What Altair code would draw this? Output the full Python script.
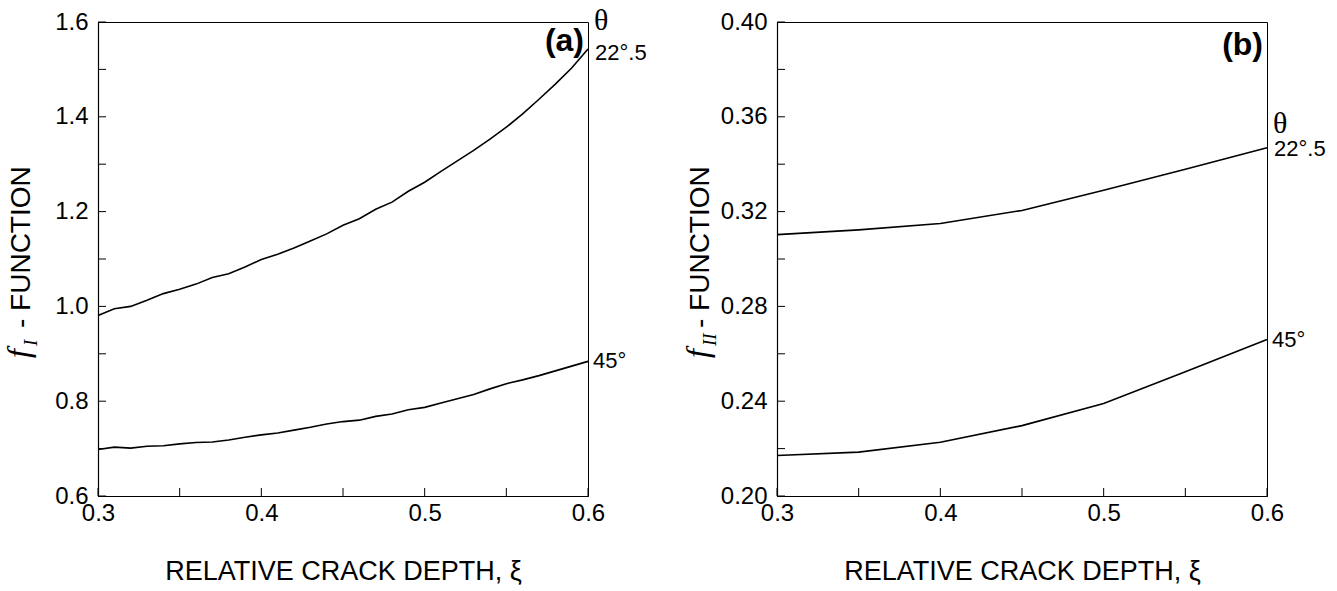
import altair as alt
import pandas as pd

# ---------------- data ----------------
xi_a = [0.30, 0.31, 0.32, 0.33, 0.34, 0.35, 0.36, 0.37, 0.38, 0.39, 0.40,
        0.41, 0.42, 0.43, 0.44, 0.45, 0.46, 0.47, 0.48, 0.49, 0.50,
        0.51, 0.52, 0.53, 0.54, 0.55, 0.56, 0.57, 0.58, 0.59, 0.60]
fI_225 = [0.981, 0.995, 1.000, 1.013, 1.027, 1.036, 1.047, 1.061, 1.069, 1.083, 1.099,
          1.110, 1.123, 1.138, 1.153, 1.171, 1.185, 1.205, 1.220, 1.243, 1.262,
          1.285, 1.307, 1.329, 1.353, 1.378, 1.406, 1.437, 1.469, 1.503, 1.543]
fI_45 = [0.698, 0.703, 0.701, 0.705, 0.706, 0.710, 0.713, 0.714, 0.718, 0.724, 0.729,
         0.733, 0.739, 0.745, 0.752, 0.757, 0.760, 0.768, 0.773, 0.782, 0.787,
         0.796, 0.805, 0.814, 0.826, 0.837, 0.845, 0.854, 0.864, 0.874, 0.884]

xi_b = [0.30, 0.35, 0.40, 0.45, 0.50, 0.55, 0.60]
fII_225 = [0.3103, 0.3123, 0.3150, 0.3205, 0.3290, 0.3379, 0.3469]
fII_45 = [0.2171, 0.2185, 0.2227, 0.2297, 0.2390, 0.2524, 0.2660]

angle_labels = ["22°.5", "45°"]

x_label_values = [0.3, 0.4, 0.5, 0.6]
x_tick_values = [0.30, 0.35, 0.40, 0.45, 0.50, 0.55, 0.60]
ya_label_values = [0.6, 0.8, 1.0, 1.2, 1.4, 1.6]
ya_tick_values = [0.6, 0.7, 0.8, 0.9, 1.0, 1.1, 1.2, 1.3, 1.4, 1.5, 1.6]
yb_label_values = [0.20, 0.24, 0.28, 0.32, 0.36, 0.40]
yb_tick_values = [0.20, 0.22, 0.24, 0.26, 0.28, 0.30, 0.32, 0.34, 0.36, 0.38, 0.40]

W, H = 490, 474
SANS = "Liberation Sans"
SERIF = "Liberation Serif"


def panel(xs, s_top, s_bot, ydom, ylabels, yticks, yfmt, tag, sub,
          top_dy, theta_dy, tag_y):
    df = pd.DataFrame({
        "xi": xs + xs,
        "f": s_top + s_bot,
        "theta": [angle_labels[0]] * len(xs) + [angle_labels[1]] * len(xs),
    })
    xsc = alt.Scale(domain=[0.3, 0.6], nice=False, zero=False)
    ysc = alt.Scale(domain=ydom, nice=False, zero=False)
    xax = alt.Axis(values=x_label_values, format=".1f",
                   title="RELATIVE CRACK DEPTH, ξ", ticks=False,
                   labelFlush=False, labelPadding=5, titlePadding=33)
    yax = alt.Axis(values=ylabels, format=yfmt, title="", ticks=False,
                   labelFlush=False, labelPadding=10)

    lines = alt.Chart(df).mark_line(color="black", strokeWidth=1.6).encode(
        x=alt.X("xi:Q", scale=xsc, axis=xax),
        y=alt.Y("f:Q", scale=ysc, axis=yax),
        detail="theta:N",
    )
    xt = alt.Chart(pd.DataFrame({"xi": x_tick_values})).mark_rule(
        color="black", strokeWidth=1).encode(
        x=alt.X("xi:Q", scale=xsc, axis=xax),
        y=alt.value(H), y2=alt.value(H - 8))
    yt = alt.Chart(pd.DataFrame({"f": yticks})).mark_rule(
        color="black", strokeWidth=1).encode(
        y=alt.Y("f:Q", scale=ysc, axis=yax),
        x=alt.value(0), x2=alt.value(8))

    top_end = pd.DataFrame({"xi": [xs[-1]], "f": [s_top[-1]],
                            "lab": [angle_labels[0]]})
    bot_end = pd.DataFrame({"xi": [xs[-1]], "f": [s_bot[-1]],
                            "lab": [angle_labels[1]]})
    top_text = alt.Chart(top_end).mark_text(
        align="left", baseline="middle", dx=7, dy=top_dy, font=SANS,
        fontSize=22, color="black").encode(
        x=alt.X("xi:Q", scale=xsc, axis=xax),
        y=alt.Y("f:Q", scale=ysc, axis=yax),
        text="lab:N")
    bot_text = alt.Chart(bot_end).mark_text(
        align="left", baseline="middle", dx=5, font=SANS,
        fontSize=22, color="black").encode(
        x=alt.X("xi:Q", scale=xsc, axis=xax),
        y=alt.Y("f:Q", scale=ysc, axis=yax),
        text="lab:N")
    theta = alt.Chart(top_end).mark_text(
        align="left", baseline="middle", dx=6, dy=theta_dy, font=SERIF,
        fontSize=30, color="black").encode(
        x=alt.X("xi:Q", scale=xsc, axis=xax),
        y=alt.Y("f:Q", scale=ysc, axis=yax),
        text=alt.value("θ"))
    tag_text = alt.Chart(pd.DataFrame({"t": [tag]})).mark_text(
        align="right", baseline="top", font=SANS, fontSize=32,
        fontWeight="bold", color="black").encode(
        x=alt.value(W - 4), y=alt.value(tag_y), text="t:N")
    yt_main = alt.Chart(pd.DataFrame({"t": ["- FUNCTION"]})).mark_text(
        angle=270, align="left", baseline="middle", font=SANS, fontSize=28,
        color="black").encode(x=alt.value(-76), y=alt.value(306), text="t:N")
    yt_f = alt.Chart(pd.DataFrame({"t": ["f"]})).mark_text(
        angle=270, align="left", baseline="middle", font=SERIF, fontSize=32,
        fontStyle="italic", color="black").encode(
        x=alt.value(-79), y=alt.value(336), text="t:N")
    yt_sub = alt.Chart(pd.DataFrame({"t": [sub]})).mark_text(
        angle=270, align="left", baseline="middle", font=SERIF, fontSize=19,
        fontStyle="italic", color="black").encode(
        x=alt.value(-67), y=alt.value(324), text="t:N")
    return alt.layer(lines, xt, yt, top_text, bot_text, theta, tag_text,
                     yt_main, yt_f, yt_sub).properties(width=W, height=H)


left = panel(xi_a, fI_225, fI_45, [0.6, 1.6], ya_label_values,
             ya_tick_values, ".1f", "(a)", "I", 4, -28, 4)
right = panel(xi_b, fII_225, fII_45, [0.20, 0.40], yb_label_values,
              yb_tick_values, ".2f", "(b)", "II", 1, -24, 8)

chart = alt.hconcat(left, right, spacing=189, bounds="flush").properties(
    padding={"left": 2, "top": 5, "right": 0, "bottom": 0},
    background="white",
).configure_view(stroke="black", strokeWidth=1).configure_axis(
    grid=False, domainColor="black", domainWidth=1.2,
    labelFont=SANS, labelFontSize=24, labelColor="black",
    titleFont=SANS, titleFontSize=27, titleFontWeight="normal",
    titleColor="black",
)

chart.save("out.html", embed_options={"renderer": "svg", "actions": False})
